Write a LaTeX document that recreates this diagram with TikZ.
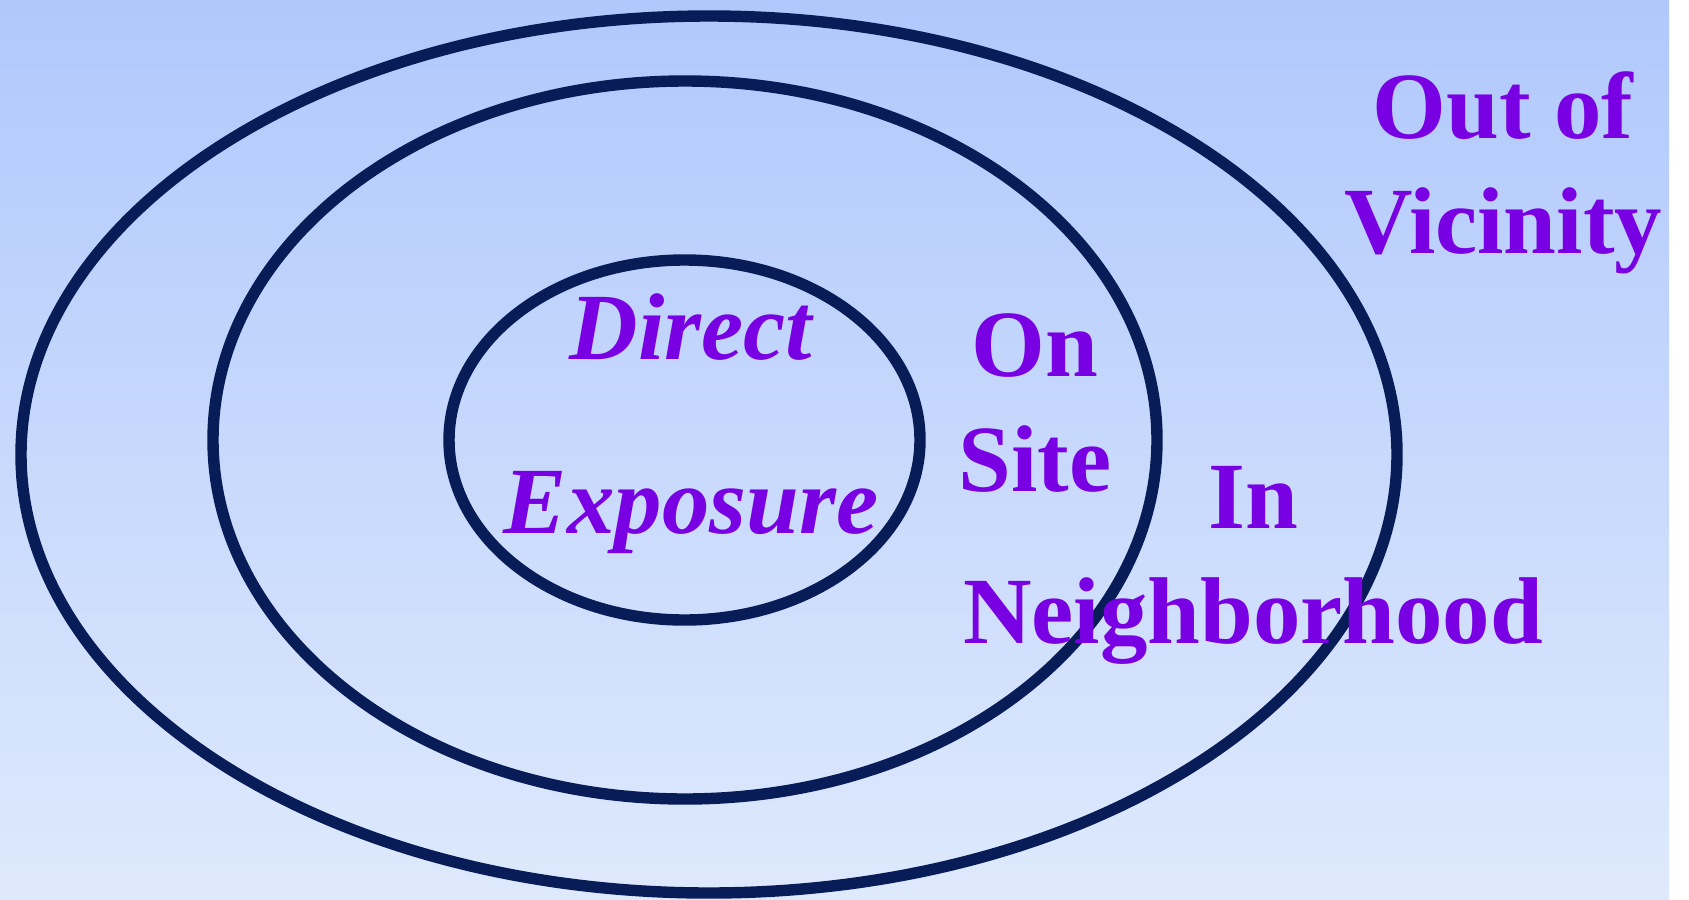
\documentclass[tikz,border=0pt]{standalone}
\usepackage{fontspec}
\setmainfont{Liberation Serif}
\definecolor{ringblue}{RGB}{8,28,88}
\definecolor{labelpurple}{RGB}{122,0,228}
\definecolor{skytop}{RGB}{176,200,252}
\definecolor{skybottom}{RGB}{222,233,252}
\begin{document}
\begin{tikzpicture}[x=0.02cm, y=-0.02cm,
    ring/.style={draw=ringblue, line width=6.5pt},
    zonelabel/.style={text=labelpurple, font=\fontsize{54}{65}\selectfont\bfseries,
        align=center, inner sep=0pt, anchor=base}]
    % Background
    \useasboundingbox (0,0) rectangle (1689,899);
    \fill[white] (0,0) rectangle (1689,899);
    \shade[top color=skytop, bottom color=skybottom] (0,0) rectangle (1669,899);
    % Rings
    \draw[ring] (709,454.5) ellipse [x radius=688, y radius=438.5];
    \draw[ring] (685,440) ellipse [x radius=472, y radius=359];
    \draw[ring] (684.5,440) ellipse [x radius=235.5, y radius=180];
    % Labels (base = last line)
    \node[zonelabel, font=\fontsize{54}{65}\selectfont\bfseries\itshape] (direct) at (691,533) {Direct\\[34pt]Exposure};
    \node[zonelabel] (onsite) at (1035,491) {On\\Site};
    \node[zonelabel] (neighborhood) at (1253,643) {In\\Neighborhood};
    \node[zonelabel] (vicinity) at (1503,253) {Out of\\Vicinity};
\end{tikzpicture}
\end{document}
